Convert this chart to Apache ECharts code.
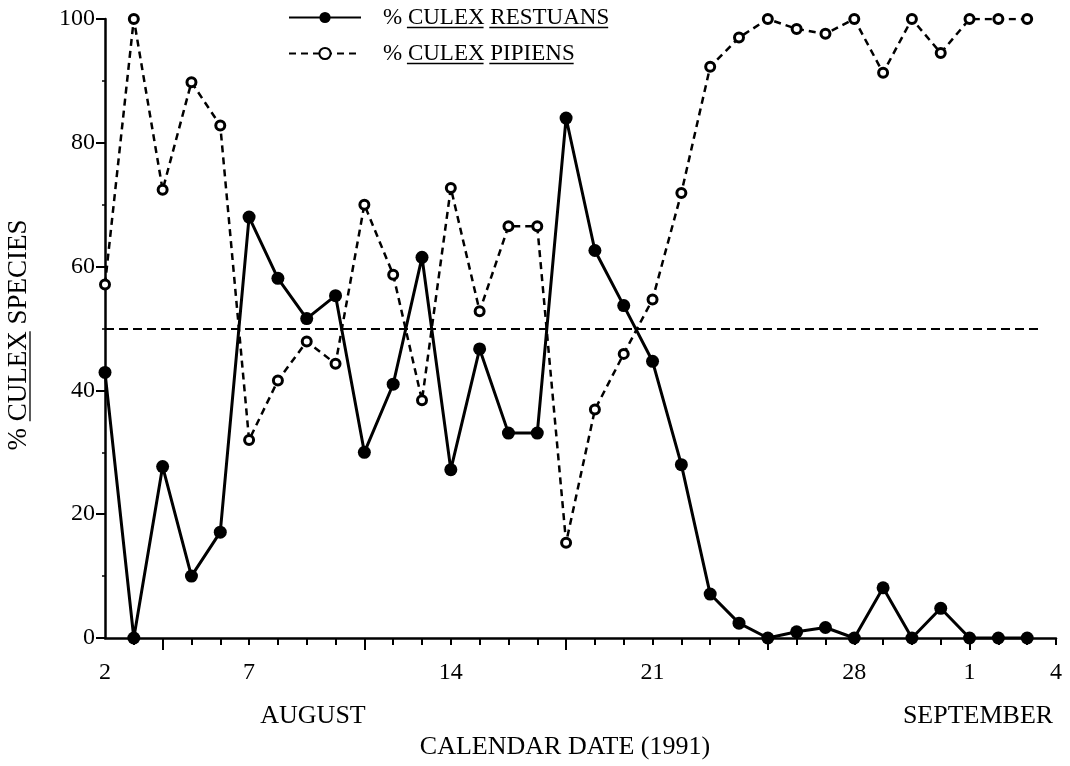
<!DOCTYPE html>
<html>
<head>
<meta charset="utf-8">
<script src="https://cdn.jsdelivr.net/npm/echarts@6/dist/echarts.min.js"></script>
<style>
  html, body { margin: 0; padding: 0; background: #fff; }
  #chart { width: 1070px; height: 766px; }
</style>
</head>
<body>
<div id="chart"></div>
<script>
// Day numbers counted from 1 August 1991 (32 = 1 September)
const days = [2, 3, 4, 5, 6, 7, 8, 9, 10, 11, 12, 13, 14, 15, 16, 17, 18, 19, 20, 21,
              22, 23, 24, 25, 26, 27, 28, 29, 30, 31, 32, 33, 34];
const restuans = [42.9, 0, 27.7, 10.0, 17.1, 68.0, 58.1, 51.6, 55.3, 30.0, 41.0, 61.5, 27.2,
                  46.7, 33.1, 33.1, 84.0, 62.6, 53.7, 44.7, 28.0, 7.1, 2.4, 0, 1.0, 1.7, 0,
                  8.1, 0, 4.8, 0, 0, 0];
const pipiens = [57.1, 100, 72.4, 89.8, 82.8, 32.0, 41.6, 47.9, 44.3, 70.0, 58.7, 38.4, 72.7,
                 52.8, 66.5, 66.5, 15.4, 36.9, 45.9, 54.7, 71.9, 92.3, 97.0, 100, 98.4, 97.6, 100,
                 91.3, 100, 94.5, 100, 100, 100];
const xLabelDays = [2, 7, 14, 21, 28, 32, 35];
const dayTickDays = [3, 4, 5, 6, 7, 8, 9, 10, 11, 12, 13, 14, 15, 16, 17, 18, 19, 20, 21,
                     22, 23, 24, 25, 26, 27, 28, 29, 30, 31, 32, 33, 34, 35];
const weekTickDays = [4, 11, 18, 25, 32];
const refLevel = 50;
const refLineEnd = 34.4;
const seriesNames = ['% CULEX RESTUANS', '% CULEX PIPIENS'];

const FONT = '"Liberation Serif", "Times New Roman", serif';
const ctx = document.createElement('canvas').getContext('2d');
function textW(s, size) { ctx.font = size + 'px ' + FONT; return ctx.measureText(s).width; }

const chart = echarts.init(document.getElementById('chart'), null, { renderer: 'canvas' });

const gridRect = { left: 105, right: 14, top: 19, bottom: 128 };

// legend geometry (for underlining the latin names)
const legendLeft = 288, legendTop = 6, itemW = 72, itemH = 14, itemGap = 13, textPad = 17;
const legendFont = 23;
const rowH = 23;
const textStartX = legendLeft + itemW + 5 + textPad;
const graphics = [];
seriesNames.forEach((name, i) => {
  const cy = legendTop + rowH / 2 + i * (rowH + itemGap);
  const words = name.split(' ');
  let x = textStartX + textW(words[0] + ' ', legendFont);
  for (let w = 1; w < words.length; w++) {
    const ww = textW(words[w], legendFont);
    graphics.push({ type: 'line', silent: true,
      shape: { x1: x, y1: cy + 10, x2: x + ww, y2: cy + 10 },
      style: { stroke: '#000', lineWidth: 1.3 } });
    x += ww + textW(' ', legendFont);
  }
});

// Y axis title with underlined CULEX
const yTitle = '% CULEX SPECIES';
const yTitleSize = 27;
const yW = textW(yTitle, yTitleSize);
const ulStart = -yW / 2 + textW('% ', yTitleSize);
const ulEnd = -yW / 2 + textW('% CULEX', yTitleSize);
graphics.push({
  type: 'group', x: 19, y: 335, rotation: Math.PI / 2,
  children: [
    { type: 'text', style: { text: yTitle, x: 0, y: 0, align: 'center', verticalAlign: 'middle',
        font: yTitleSize + 'px ' + FONT, fill: '#000' } },
    { type: 'line', shape: { x1: ulStart, y1: 11, x2: ulEnd, y2: 11 },
      style: { stroke: '#000', lineWidth: 1.3 } }
  ]
});
graphics.push({ type: 'text', style: { text: 'AUGUST', x: 313, y: 716, align: 'center', verticalAlign: 'middle',
  font: '26px ' + FONT, fill: '#000' } });
graphics.push({ type: 'text', style: { text: 'SEPTEMBER', x: 978, y: 716, align: 'center', verticalAlign: 'middle',
  font: '26px ' + FONT, fill: '#000' } });
graphics.push({ type: 'text', style: { text: 'CALENDAR DATE (1991)', x: 565, y: 747, align: 'center', verticalAlign: 'middle',
  font: '26px ' + FONT, fill: '#000' } });

function tickAxis(gridIndex, values, len) {
  return {
    type: 'value', gridIndex: gridIndex, min: 2, max: 35, position: 'bottom',
    axisLine: { show: false },
    axisTick: { show: true, customValues: values, length: len, lineStyle: { color: '#000', width: 2 } },
    axisLabel: { show: false },
    splitLine: { show: false }
  };
}

const option = {
  backgroundColor: '#fff',
  animation: false,
  textStyle: { fontFamily: FONT, color: '#000' },
  grid: [Object.assign({}, gridRect), Object.assign({}, gridRect), Object.assign({}, gridRect)],
  legend: {
    data: seriesNames,
    orient: 'vertical',
    left: legendLeft, top: legendTop, padding: 0,
    itemWidth: itemW, itemHeight: itemH, itemGap: itemGap,
    selectedMode: false,
    textStyle: { fontFamily: FONT, fontSize: legendFont, color: '#000', padding: [0, 0, 0, textPad] }
  },
  xAxis: [{
    type: 'value', gridIndex: 0, min: 2, max: 35, interval: 1,
    axisLine: { show: true, onZero: false, lineStyle: { color: '#000', width: 2.5 } },
    axisTick: { show: false },
    splitLine: { show: false },
    axisLabel: {
      customValues: xLabelDays,
      color: '#000', fontFamily: FONT, fontSize: 24, margin: 23,
      formatter: v => String(v > 31 ? v - 31 : v)
    }
  }, tickAxis(1, dayTickDays, 7), tickAxis(2, weekTickDays, 12)],
  yAxis: [{
    type: 'value', gridIndex: 0, min: 0, max: 100, interval: 20,
    axisLine: { show: true, lineStyle: { color: '#000', width: 2.5 } },
    axisTick: { show: true, length: 9, lineStyle: { color: '#000', width: 2 } },
    minorTick: { show: true, splitNumber: 2, length: 3, lineStyle: { color: '#000', width: 1.5 } },
    splitLine: { show: false },
    axisLabel: { color: '#000', fontFamily: FONT, fontSize: 24, margin: 10 }
  }, {
    type: 'value', gridIndex: 1, min: 0, max: 100, show: false
  }, {
    type: 'value', gridIndex: 2, min: 0, max: 100, show: false
  }],
  graphic: graphics,
  series: [{
    name: seriesNames[0],
    type: 'line',
    xAxisIndex: 0, yAxisIndex: 0,
    data: days.map((d, i) => [d, restuans[i]]),
    symbol: 'circle', symbolSize: 13,
    itemStyle: { color: '#000' },
    lineStyle: { color: '#000', width: 3 },
    z: 3,
    markLine: {
      silent: true, symbol: 'none', label: { show: false },
      lineStyle: { color: '#000', type: [9, 5], width: 2 },
      data: [[{ coord: [days[0], refLevel] }, { coord: [refLineEnd, refLevel] }]]
    }
  }, {
    name: seriesNames[1],
    type: 'line',
    xAxisIndex: 0, yAxisIndex: 0,
    data: days.map((d, i) => [d, pipiens[i]]),
    symbol: 'circle', symbolSize: 9,
    itemStyle: { color: '#fff', borderColor: '#000', borderWidth: 3 },
    lineStyle: { color: '#000', width: 2.5, type: [7, 5] },
    z: 4
  }]
};
chart.setOption(option);
</script>
</body>
</html>
